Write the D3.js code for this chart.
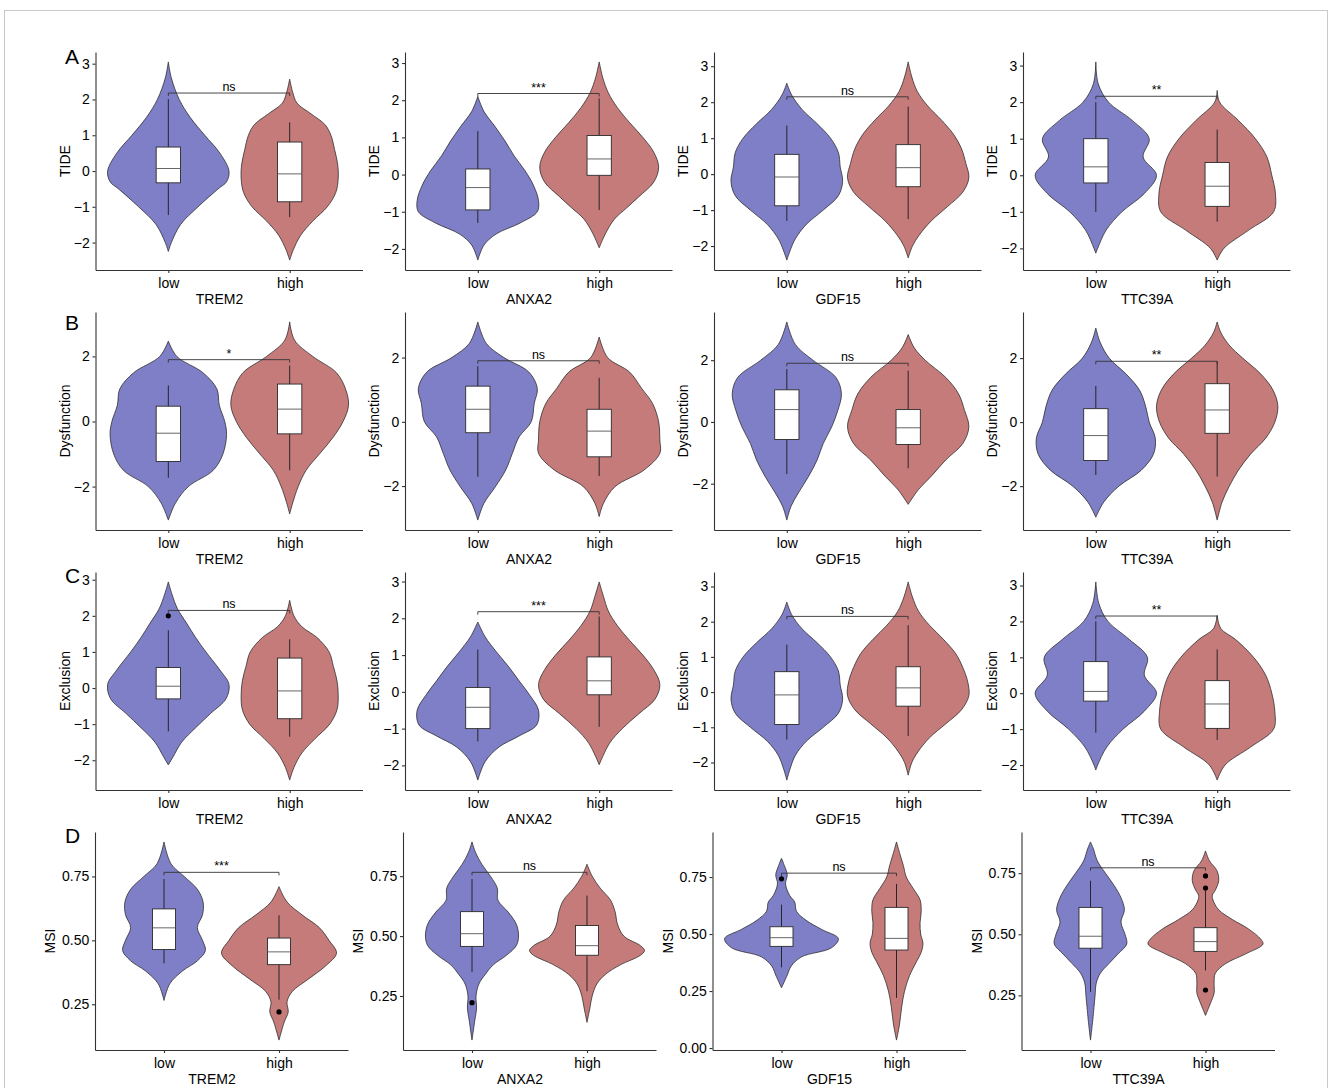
<!DOCTYPE html>
<html>
<head>
<meta charset="utf-8">
<script src="https://cdn.jsdelivr.net/npm/d3@7"></script>
<style>
  body { margin: 0; background: #fff; }
  text { font-family: "Liberation Sans", Arial, Helvetica, sans-serif; fill: #000; }
</style>
</head>
<body>
<div id="wrapper"></div>
<script>
// ---- data ----
const genes = ["TREM2", "ANXA2", "GDF15", "TTC39A"]
const scores = ["TIDE", "Dysfunction", "Exclusion", "MSI"]
const groups = ["low", "high"]
const panelLetters = ["A", "B", "C", "D"]
const groupColors = ["#7f7fc7", "#c67b7b"]

const yTickValues = [
    [-2, -1, 0, 1, 2, 3],
    [-2, 0, 2],
    [-2, -1, 0, 1, 2, 3],
    [0, 0.25, 0.5, 0.75],
]

// violin outlines: [value, relative density] from top tip to bottom tip, per gene: [low, high]
const tideViolins = [
    [[[3.05,0],[2.6,0.05],[2.0,0.18],[1.5,0.36],[1.0,0.6],[0.5,0.85],[0.0,1.0],[-0.3,0.96],[-0.5,0.82],[-1.0,0.49],[-1.5,0.2],[-2.0,0.05],[-2.25,0]],
     [[2.57,0],[2.2,0.05],[1.9,0.12],[1.6,0.35],[1.3,0.58],[1.0,0.68],[0.6,0.74],[0.2,0.79],[-0.2,0.8],[-0.6,0.76],[-1.0,0.62],[-1.4,0.38],[-1.8,0.18],[-2.2,0.06],[-2.49,0]]],
    [[[2.1,0],[1.7,0.1],[1.3,0.28],[0.9,0.45],[0.5,0.6],[0.1,0.78],[-0.3,0.92],[-0.7,1.0],[-1.0,0.98],[-1.3,0.7],[-1.6,0.3],[-1.9,0.1],[-2.3,0]],
     [[3.03,0],[2.6,0.06],[2.2,0.15],[1.8,0.3],[1.4,0.5],[1.0,0.72],[0.6,0.9],[0.2,0.98],[-0.2,0.9],[-0.6,0.65],[-0.9,0.45],[-1.2,0.25],[-1.6,0.1],[-1.97,0]]],
    [[[2.53,0],[2.2,0.08],[1.8,0.25],[1.4,0.5],[1.0,0.72],[0.6,0.85],[0.2,0.88],[-0.2,0.92],[-0.6,0.85],[-1.0,0.6],[-1.4,0.32],[-1.8,0.14],[-2.1,0.06],[-2.39,0]],
     [[3.12,0],[2.7,0.06],[2.3,0.15],[1.9,0.32],[1.5,0.55],[1.1,0.75],[0.7,0.88],[0.3,0.95],[-0.1,1.0],[-0.5,0.9],[-0.9,0.65],[-1.3,0.38],[-1.7,0.18],[-2.0,0.07],[-2.33,0]]],
    [[[3.1,0],[2.5,0.04],[2.0,0.21],[1.5,0.6],[1.0,0.88],[0.5,0.78],[0.0,1.0],[-0.5,0.8],[-1.0,0.43],[-1.5,0.17],[-2.0,0.03],[-2.13,0]],
     [[2.32,0],[2.0,0.04],[1.5,0.35],[1.0,0.63],[0.5,0.82],[0.0,0.9],[-0.5,0.96],[-1.0,0.93],[-1.5,0.52],[-2.0,0.11],[-2.32,0]]],
]
const dysfunctionViolins = [
    [[[2.47,0],[2.0,0.14],[1.5,0.57],[1.0,0.8],[0.5,0.84],[0.0,0.93],[-0.4,0.96],[-1.0,0.9],[-1.5,0.74],[-2.0,0.33],[-2.5,0.12],[-3.03,0]],
     [[3.06,0],[2.5,0.08],[2.0,0.38],[1.5,0.77],[1.0,0.92],[0.5,0.97],[0.0,0.88],[-0.5,0.71],[-1.0,0.49],[-1.5,0.27],[-2.0,0.14],[-2.5,0.05],[-2.84,0]]],
    [[[3.11,0],[2.44,0.14],[2.0,0.43],[1.55,0.84],[1.04,0.98],[0.57,0.93],[0.0,0.88],[-0.47,0.68],[-0.98,0.57],[-1.5,0.46],[-2.02,0.29],[-2.54,0.1],[-3.06,0]],
     [[2.64,0],[2.0,0.14],[1.55,0.5],[1.04,0.7],[0.57,0.88],[0.0,0.98],[-0.57,1.0],[-0.98,1.0],[-1.5,0.74],[-2.02,0.26],[-2.54,0.07],[-2.95,0]]],
    [[[3.24,0],[2.51,0.14],[2.0,0.43],[1.44,0.81],[0.91,0.9],[0.37,0.84],[-0.16,0.74],[-0.7,0.6],[-1.23,0.5],[-1.76,0.36],[-2.3,0.19],[-2.73,0.07],[-3.18,0]],
     [[2.83,0],[2.4,0.1],[2.0,0.28],[1.44,0.62],[0.91,0.83],[0.37,0.93],[-0.16,1.0],[-0.7,0.9],[-1.23,0.62],[-1.76,0.38],[-2.19,0.17],[-2.67,0]]],
    [[[2.94,0],[2.5,0.07],[2.0,0.22],[1.5,0.5],[1.0,0.72],[0.5,0.82],[0.0,0.88],[-0.5,0.98],[-1.0,0.95],[-1.5,0.75],[-2.0,0.38],[-2.5,0.13],[-2.97,0]],
     [[3.13,0],[2.8,0.06],[2.4,0.2],[2.0,0.42],[1.5,0.72],[1.0,0.92],[0.5,1.0],[0.0,0.95],[-0.5,0.8],[-1.0,0.55],[-1.5,0.35],[-2.0,0.2],[-2.5,0.08],[-3.06,0]]],
]
const exclusionViolins = [
    [[[2.94,0],[2.6,0.06],[2.2,0.15],[1.8,0.3],[1.4,0.45],[1.0,0.62],[0.5,0.85],[0.1,1.0],[-0.3,0.95],[-0.7,0.7],[-1.1,0.45],[-1.5,0.22],[-1.9,0.08],[-2.13,0]],
     [[2.43,0],[2.0,0.07],[1.7,0.2],[1.4,0.45],[1.0,0.65],[0.6,0.72],[0.2,0.78],[-0.2,0.8],[-0.6,0.78],[-1.0,0.66],[-1.4,0.42],[-1.8,0.2],[-2.2,0.07],[-2.55,0]]],
    [[[1.9,0],[1.5,0.12],[1.1,0.3],[0.7,0.5],[0.3,0.68],[-0.1,0.86],[-0.5,1.0],[-0.9,0.97],[-1.2,0.68],[-1.5,0.35],[-1.9,0.12],[-2.4,0]],
     [[2.99,0],[2.6,0.07],[2.2,0.15],[1.8,0.3],[1.4,0.5],[1.0,0.72],[0.6,0.9],[0.2,1.0],[-0.2,0.92],[-0.6,0.65],[-1.0,0.38],[-1.4,0.17],[-1.98,0]]],
    [[[2.56,0],[2.2,0.08],[1.8,0.25],[1.4,0.5],[1.0,0.72],[0.6,0.85],[0.2,0.88],[-0.2,0.92],[-0.6,0.85],[-1.0,0.6],[-1.4,0.32],[-1.8,0.14],[-2.2,0.05],[-2.5,0]],
     [[3.13,0],[2.7,0.07],[2.3,0.17],[1.9,0.35],[1.5,0.58],[1.1,0.78],[0.7,0.9],[0.3,0.98],[-0.1,1.0],[-0.5,0.88],[-0.9,0.62],[-1.3,0.35],[-1.7,0.16],[-2.0,0.06],[-2.36,0]]],
    [[[3.1,0],[2.5,0.05],[2.0,0.2],[1.5,0.55],[1.0,0.85],[0.5,0.8],[0.0,1.0],[-0.5,0.8],[-1.0,0.45],[-1.5,0.18],[-2.0,0.03],[-2.14,0]],
     [[2.17,0],[1.8,0.06],[1.5,0.3],[1.0,0.6],[0.5,0.8],[0.0,0.9],[-0.5,0.95],[-1.0,0.93],[-1.5,0.55],[-2.0,0.13],[-2.42,0]]],
]
const msiViolins = [
    [[[0.885,0],[0.8,0.12],[0.75,0.35],[0.7,0.58],[0.65,0.68],[0.6,0.67],[0.55,0.58],[0.5,0.67],[0.46,0.72],[0.42,0.58],[0.38,0.32],[0.33,0.1],[0.265,0]],
     [[0.71,0],[0.65,0.14],[0.6,0.4],[0.55,0.7],[0.5,0.87],[0.45,1.0],[0.4,0.81],[0.35,0.52],[0.3,0.23],[0.26,0.14],[0.22,0.16],[0.18,0.09],[0.11,0]]],
    [[[0.893,0],[0.85,0.06],[0.8,0.17],[0.75,0.32],[0.7,0.44],[0.65,0.45],[0.6,0.63],[0.55,0.77],[0.5,0.81],[0.46,0.77],[0.42,0.6],[0.38,0.37],[0.34,0.23],[0.3,0.12],[0.25,0.07],[0.2,0.08],[0.15,0.05],[0.066,0]],
     [[0.8,0],[0.75,0.09],[0.7,0.23],[0.65,0.41],[0.6,0.49],[0.55,0.53],[0.5,0.64],[0.46,0.93],[0.44,1.0],[0.42,0.93],[0.38,0.58],[0.34,0.32],[0.3,0.17],[0.25,0.09],[0.2,0.05],[0.14,0]]],
    [[[0.832,0],[0.8,0.05],[0.76,0.1],[0.72,0.07],[0.67,0.14],[0.64,0.23],[0.6,0.26],[0.56,0.43],[0.52,0.7],[0.48,0.99],[0.44,0.87],[0.4,0.35],[0.36,0.17],[0.32,0.1],[0.264,0]],
     [[0.904,0],[0.85,0.06],[0.8,0.12],[0.75,0.17],[0.7,0.29],[0.65,0.41],[0.6,0.43],[0.55,0.41],[0.5,0.42],[0.46,0.46],[0.42,0.43],[0.38,0.35],[0.32,0.23],[0.25,0.14],[0.18,0.09],[0.1,0.05],[0.035,0]]],
    [[[0.878,0],[0.85,0.05],[0.8,0.12],[0.75,0.26],[0.7,0.41],[0.65,0.53],[0.6,0.59],[0.55,0.53],[0.5,0.6],[0.46,0.63],[0.42,0.48],[0.38,0.32],[0.34,0.17],[0.3,0.1],[0.25,0.08],[0.2,0.06],[0.15,0.04],[0.067,0]],
     [[0.841,0],[0.8,0.07],[0.76,0.2],[0.72,0.23],[0.68,0.17],[0.66,0.12],[0.64,0.13],[0.6,0.23],[0.56,0.47],[0.52,0.76],[0.48,0.96],[0.46,1.0],[0.42,0.7],[0.38,0.35],[0.34,0.17],[0.3,0.15],[0.26,0.15],[0.22,0.09],[0.168,0]]],
]

// boxplot stats: [lower whisker, q1, median, q3, upper whisker], per gene: [low, high]
const tideBoxes = [
    [[-1.23,-0.33,0.07,0.67,2.01], [-1.29,-0.86,-0.08,0.81,1.36]],
    [[-1.3,-0.95,-0.35,0.15,1.17], [-0.95,-0.02,0.42,1.05,2.05]],
    [[-1.3,-0.88,-0.08,0.55,1.35], [-1.25,-0.35,0.18,0.82,1.88]],
    [[-1.0,-0.21,0.23,1.0,2.0], [-1.27,-0.85,-0.3,0.35,1.25]],
]
const dysfunctionBoxes = [
    [[-1.73,-1.23,-0.36,0.47,1.11], [-1.5,-0.38,0.38,1.15,1.72]],
    [[-1.71,-0.34,0.39,1.11,1.73], [-1.69,-1.09,-0.29,0.39,1.37]],
    [[-1.69,-0.57,0.4,1.04,1.71], [-1.5,-0.73,-0.19,0.4,1.66]],
    [[-1.65,-1.2,-0.42,0.42,1.13], [-1.7,-0.35,0.38,1.2,1.9]],
]
const exclusionBoxes = [
    [[-1.2,-0.3,0.05,0.57,1.6], [-1.35,-0.85,-0.08,0.83,1.35]],
    [[-1.35,-1.0,-0.42,0.12,1.15], [-0.95,-0.08,0.3,0.95,2.05]],
    [[-1.35,-0.92,-0.08,0.58,1.35], [-1.25,-0.4,0.12,0.72,1.9]],
    [[-1.1,-0.22,0.05,0.88,2.0], [-1.3,-0.98,-0.3,0.35,1.22]],
]
const msiBoxes = [
    [[0.41,0.464,0.549,0.623,0.74], [0.268,0.405,0.455,0.509,0.598]],
    [[0.35,0.457,0.51,0.602,0.738], [0.27,0.42,0.46,0.544,0.669]],
    [[0.354,0.446,0.484,0.532,0.629], [0.22,0.43,0.481,0.617,0.72]],
    [[0.264,0.443,0.492,0.61,0.719], [0.352,0.43,0.47,0.527,0.677]],
]

// outliers per gene: [low, high]
const tideOutliers = [[[], []], [[], []], [[], []], [[], []]]
const dysfunctionOutliers = [[[], []], [[], []], [[], []], [[], []]]
const exclusionOutliers = [[[2.0], []], [[], []], [[], []], [[], []]]
const msiOutliers = [[[], [0.22]], [[0.222], []], [[0.742], []], [[], [0.739, 0.689, 0.272]]]

// significance brackets
const tideSig = ["ns", "***", "ns", "**"]
const dysfunctionSig = ["*", "ns", "ns", "**"]
const exclusionSig = ["ns", "***", "ns", "**"]
const msiSig = ["***", "ns", "ns", "ns"]
const tideBracketY = [2.18, 2.18, 2.15, 2.16]
const dysfunctionBracketY = [1.9, 1.9, 1.9, 1.9]
const exclusionBracketY = [2.15, 2.18, 2.15, 2.15]
const msiBracketY = [0.766, 0.766, 0.767, 0.772]

const allViolins = [tideViolins, dysfunctionViolins, exclusionViolins, msiViolins]
const allBoxes = [tideBoxes, dysfunctionBoxes, exclusionBoxes, msiBoxes]
const allOutliers = [tideOutliers, dysfunctionOutliers, exclusionOutliers, msiOutliers]
const allSig = [tideSig, dysfunctionSig, exclusionSig, msiSig]
const allBracketY = [tideBracketY, dysfunctionBracketY, exclusionBracketY, msiBracketY]

// ---- layout ----
const width = 1328
const height = 1088
const rowTop = [52, 312, 572, 832]
const plotHeight = 218
const colLeft = [
    [95.5, 405, 714, 1023],
    [95.5, 405, 714, 1023],
    [95.5, 405, 714, 1023],
    [95, 403, 712.5, 1021.5],
]
const plotWidth = [267, 267, 267, 253]
const letterBaseline = [63.5, 330, 582.5, 843]
const axisColor = "#333"

const wrapper = d3.select("#wrapper")
    .append("svg")
    .attr("width", width)
    .attr("height", height)

wrapper.append("rect")
    .attr("x", 4.5).attr("y", 10.5)
    .attr("width", 1323).attr("height", 1100)
    .attr("fill", "none")
    .attr("stroke", "#c9c9c9")
    .attr("stroke-width", 1)

function drawPanel(r, c) {
    const left = colLeft[r][c]
    const top = rowTop[r]
    const w = plotWidth[r]
    const violins = allViolins[r][c]
    const boxes = allBoxes[r][c]
    const outliers = allOutliers[r][c]

    const bounds = wrapper.append("g")

    const xScaler = d3.scalePoint()
        .domain(groups)
        .range([left, left + w])
        .padding(0.6)
    const step = xScaler.step()
    const half = step * 0.5

    // ggplot-style 5% expansion around the violin extents
    const ext = d3.extent(violins.flat(), d => d[0])
    const pad = (ext[1] - ext[0]) * 0.05
    const yScaler = d3.scaleLinear()
        .domain([ext[0] - pad, ext[1] + pad])
        .range([top + plotHeight, top])

    // violins
    groups.forEach((g, i) => {
        const cx = xScaler(g)
        const area = d3.area()
            .curve(d3.curveCatmullRom.alpha(0.5))
            .y(d => yScaler(d[0]))
            .x0(d => cx - d[1] * half)
            .x1(d => cx + d[1] * half)
        bounds.append("path")
            .attr("d", area(violins[i]))
            .attr("fill", groupColors[i])
            .attr("stroke", "#262626")
            .attr("stroke-width", 0.75)
    })

    // boxplots
    const boxW = step * 0.2
    groups.forEach((g, i) => {
        const cx = xScaler(g)
        const [wl, q1, med, q3, wh] = boxes[i]
        bounds.append("line")
            .attr("x1", cx).attr("x2", cx)
            .attr("y1", yScaler(wh)).attr("y2", yScaler(wl))
            .attr("stroke", "#1a1a1a").attr("stroke-width", 0.9)
        bounds.append("rect")
            .attr("x", cx - boxW / 2)
            .attr("y", yScaler(q3))
            .attr("width", boxW)
            .attr("height", yScaler(q1) - yScaler(q3))
            .attr("fill", "#fff")
            .attr("stroke", "#2b2b2b")
            .attr("stroke-width", 0.9)
        bounds.append("line")
            .attr("x1", cx - boxW / 2).attr("x2", cx + boxW / 2)
            .attr("y1", yScaler(med)).attr("y2", yScaler(med))
            .attr("stroke", "#555").attr("stroke-width", 0.9)
        bounds.selectAll(null)
            .data(outliers[i])
            .enter()
            .append("circle")
            .attr("cx", cx)
            .attr("cy", d => yScaler(d))
            .attr("r", 2.6)
            .attr("fill", "#000")
    })

    // significance bracket
    const by = yScaler(allBracketY[r][c])
    const xl = xScaler("low"), xh = xScaler("high")
    bounds.append("path")
        .attr("d", `M${xl},${by + 3}V${by}H${xh}V${by + 3}`)
        .attr("fill", "none")
        .attr("stroke", "#333")
        .attr("stroke-width", 0.9)
    bounds.append("text")
        .attr("x", (xl + xh) / 2)
        .attr("y", by - 2)
        .attr("text-anchor", "middle")
        .attr("font-size", "12.5px")
        .attr("fill", "#000")
        .text(allSig[r][c])

    // axes
    const ticks = yTickValues[r].filter(t => t >= yScaler.domain()[0] && t <= yScaler.domain()[1])
    const yAxisGen = d3.axisLeft(yScaler)
        .tickValues(ticks)
        .tickSize(3)
        .tickSizeOuter(0)
        .tickPadding(2.7)
        .tickFormat(r === 3 ? d3.format(".2f") : d3.format("d"))
    const yAxis = bounds.append("g")
        .attr("transform", `translate(${left},0)`)
        .call(yAxisGen)

    const xAxisGen = d3.axisBottom(xScaler)
        .tickSize(3)
        .tickSizeOuter(0)
        .tickPadding(5.5)
    const xAxis = bounds.append("g")
        .attr("transform", `translate(0,${top + plotHeight})`)
        .call(xAxisGen)

    ;[xAxis, yAxis].forEach(a => {
        a.select(".domain").attr("stroke", axisColor).attr("stroke-width", 1.1)
        a.selectAll(".tick line").attr("stroke", axisColor).attr("stroke-width", 1.1)
        a.selectAll("text").attr("fill", "#000").style("font-size", "14px")
            .style("font-family", "'Liberation Sans', Arial, sans-serif")
    })

    // axis titles
    bounds.append("text")
        .attr("x", (xl + xh) / 2 - 9.5)
        .attr("y", top + plotHeight + 34)
        .attr("text-anchor", "middle")
        .attr("font-size", "14px")
        .text(genes[c])

    const titleX = left - (r === 3 ? 40 : 26)
    bounds.append("text")
        .attr("transform", `translate(${titleX},${top + plotHeight / 2}) rotate(-90)`)
        .attr("text-anchor", "middle")
        .attr("font-size", "14px")
        .text(scores[r])
}

for (let r = 0; r < scores.length; r++) {
    for (let c = 0; c < genes.length; c++) {
        drawPanel(r, c)
    }
    wrapper.append("text")
        .attr("x", 65)
        .attr("y", letterBaseline[r])
        .attr("font-size", "21px")
        .text(panelLetters[r])
}
</script>
</body>
</html>
